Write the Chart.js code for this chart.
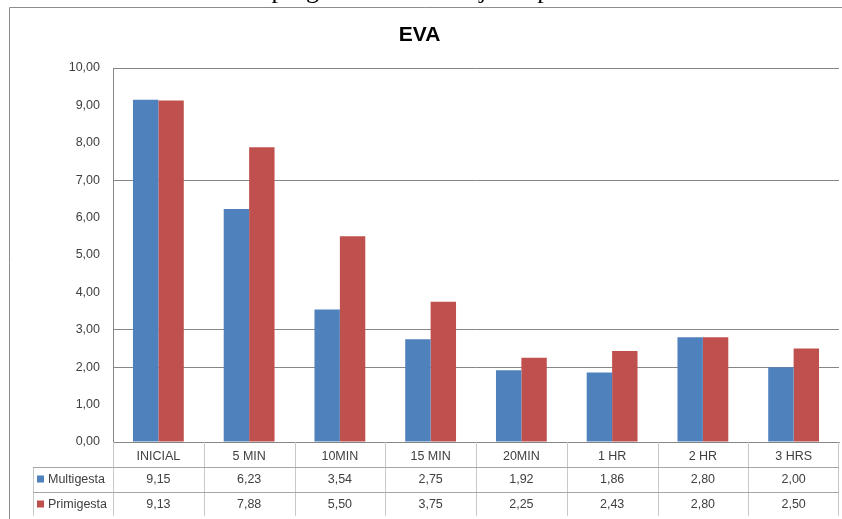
<!DOCTYPE html>
<html>
<head>
<meta charset="utf-8">
<script src="https://cdn.jsdelivr.net/npm/chart.js@4/dist/chart.umd.min.js"></script>
<style>
  html, body { margin: 0; padding: 0; background: #fff; overflow: hidden; }
  #wrap { position: relative; width: 842px; height: 519px; }
  #capbox { position: absolute; left: 0; top: 0; width: 842px; height: 7px; overflow: hidden; z-index: 2; }
  #caption {
    position: absolute; left: 0; width: 862px; top: -25px; line-height: 30px;
    text-align: center; font-family: "Liberation Serif", "DejaVu Serif", serif; font-size: 26px; color: #000;
    white-space: nowrap;
  }
  canvas { position: absolute; left: 0; top: 0; }
</style>
</head>
<body>
<div id="wrap">
  <canvas id="chart" width="842" height="519"></canvas>
  <div id="capbox"><div id="caption">progresión del trabajo de parto</div></div>
</div>
<script>
const categories = ["INICIAL", "5 MIN", "10MIN", "15 MIN", "20MIN", "1 HR", "2 HR", "3 HRS"];
const multigesta = [9.15, 6.23, 3.54, 2.75, 1.92, 1.86, 2.80, 2.00];
const primigesta = [9.13, 7.88, 5.50, 3.75, 2.25, 2.43, 2.80, 2.50];
const yTicks = [0, 1, 2, 3, 4, 5, 6, 7, 8, 9, 10];
const shownGrid = [2, 3, 7, 10];   // only these lines survive in the picture

const fmt = v => v.toFixed(2).replace(".", ",");
const FONT = '"Liberation Sans", Arial, sans-serif';

// data table under the x axis, drawn from the chart's own scale
const dataTable = {
  id: "dataTable",
  afterDraw(chart) {
    const { ctx, chartArea: a, scales: { x } } = chart;
    const half = (a.right - a.left) / categories.length / 2;
    const rowLine1 = a.bottom + 25, rowLine2 = a.bottom + 50, bottom = 516;
    const legendLeft = 33;

    ctx.save();
    // outer frame
    ctx.strokeStyle = "#8c8c8c";
    ctx.lineWidth = 1;
    ctx.beginPath();
    ctx.moveTo(9.5, 519); ctx.lineTo(9.5, 7.5); ctx.lineTo(842, 7.5);
    ctx.stroke();

    // verticals
    ctx.strokeStyle = "#c8c8c8";
    ctx.beginPath();
    categories.forEach((c, i) => {
      const xl = Math.round(x.getPixelForValue(i) - half) + 0.5;
      ctx.moveTo(xl, a.bottom); ctx.lineTo(xl, bottom);
    });
    ctx.moveTo(Math.round(a.right) - 0.5, a.bottom); ctx.lineTo(Math.round(a.right) - 0.5, bottom);
    ctx.moveTo(legendLeft + 0.5, rowLine1); ctx.lineTo(legendLeft + 0.5, bottom);
    ctx.stroke();

    // row lines
    ctx.strokeStyle = "#a6a6a6";
    ctx.beginPath();
    [rowLine1, rowLine2].forEach(y => {
      ctx.moveTo(legendLeft, y + 0.5); ctx.lineTo(a.right, y + 0.5);
    });
    ctx.stroke();

    // legend keys + values
    ctx.font = "12.5px " + FONT;
    ctx.textBaseline = "middle";
    chart.data.datasets.forEach((ds, r) => {
      const yc = (r === 0 ? rowLine1 : rowLine2) + 12.5;
      ctx.fillStyle = ds.backgroundColor;
      ctx.fillRect(37, yc - 4, 7, 7);
      ctx.fillStyle = "#404040";
      ctx.textAlign = "left";
      ctx.fillText(ds.label, 48, yc);
      ctx.textAlign = "center";
      ds.data.forEach((v, i) => ctx.fillText(fmt(v), x.getPixelForValue(i), yc));
    });
    ctx.restore();
  }
};

new Chart(document.getElementById("chart"), {
  type: "bar",
  data: {
    labels: categories,
    datasets: [
      { label: "Multigesta", data: multigesta, backgroundColor: "#4F81BD" },
      { label: "Primigesta", data: primigesta, backgroundColor: "#C0504D" }
    ]
  },
  options: {
    responsive: false,
    animation: false,
    events: [],
    layout: { padding: { left: 0, right: 3, top: 0, bottom: 0 } },
    datasets: { bar: { categoryPercentage: 0.56, barPercentage: 1.0 } },
    plugins: {
      legend: { display: false },
      tooltip: { enabled: false },
      title: {
        display: true,
        text: "EVA",
        color: "#000",
        font: { family: '"Liberation Sans Narrow", "Liberation Sans", Arial, sans-serif', size: 21, weight: "bold", lineHeight: 1.2 },
        padding: { top: 23, bottom: 19.8 }
      }
    },
    scales: {
      x: {
        grid: { display: false, drawTicks: false },
        border: { display: true, color: "#868686" },
        ticks: { color: "#404040", font: { family: FONT, size: 12.5 }, padding: 7, maxRotation: 0 },
        afterFit(s) { s.height = 77; }
      },
      y: {
        min: 0, max: 10,
        afterBuildTicks(s) { s.ticks = yTicks.map(v => ({ value: v })); },
        grid: {
          drawTicks: false,
          color: ctx => (ctx.tick && shownGrid.includes(ctx.tick.value)) ? "#868686" : "rgba(0,0,0,0)"
        },
        border: { display: true, color: "#868686" },
        ticks: { color: "#404040", font: { family: FONT, size: 12.5 }, padding: 13, callback: v => fmt(v) },
        afterFit(s) { s.width = 113; }
      }
    }
  },
  plugins: [dataTable]
});
</script>
</body>
</html>
